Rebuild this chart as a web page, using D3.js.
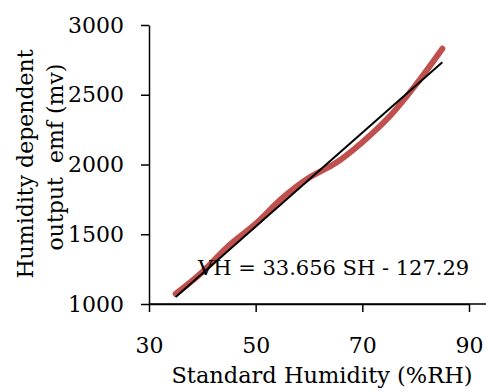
<!DOCTYPE html>
<html>
<head>
<meta charset="utf-8">
<script src="https://cdn.jsdelivr.net/npm/d3@7"></script>
<style>
  body { margin: 0; background: #fff; }
  svg text { font-family: "DejaVu Serif", serif; fill: #000; }
</style>
</head>
<body>
<svg id="chart" width="486" height="392"></svg>
<script>
const humidity = [35, 40, 45, 50, 55, 60, 65, 70, 75, 80, 85];
const emf = [1072, 1230, 1420, 1575, 1760, 1905, 2010, 2160, 2340, 2570, 2830];

// linear trendline, ends
const trendX = [35, 85];
const trendY = [1051, 2733];

const xTicks = [30, 50, 70, 90];
const yTicks = [1000, 1500, 2000, 2500, 3000];
const equation = "VH = 33.656 SH - 127.29";

const W = 486, H = 392;
const margin = { left: 149, top: 25, right: 17, bottom: 88 };

const svg = d3.select("#chart");

const x = d3.scaleLinear().domain([30, 90]).range([margin.left, W - margin.right]);
const y = d3.scaleLinear().domain([1000, 3000]).range([H - margin.bottom, margin.top]);

// axes
const xAxis = svg.append("g")
  .attr("transform", `translate(0,${y(1000)})`)
  .call(d3.axisBottom(x).tickValues(xTicks).tickFormat(d3.format("d"))
    .tickSize(8).tickSizeOuter(0).tickPadding(25));

const yAxis = svg.append("g")
  .attr("transform", `translate(${x(30)},0)`)
  .call(d3.axisLeft(y).tickValues(yTicks).tickFormat(d3.format("d"))
    .tickSize(8).tickSizeOuter(0).tickPadding(17));

[xAxis, yAxis].forEach((a) => {
  a.selectAll("path.domain").attr("stroke", "#000").attr("stroke-width", 1.5);
  a.selectAll(".tick line").attr("stroke", "#000").attr("stroke-width", 1.5);
  a.selectAll(".tick text")
    .style("font-family", "DejaVu Serif, serif")
    .style("font-size", "22px")
    .attr("fill", "#000");
});

// x axis runs on to the edge of the picture
svg.append("line")
  .attr("x1", x(30)).attr("x2", W)
  .attr("y1", y(1000)).attr("y2", y(1000))
  .attr("stroke", "#000").attr("stroke-width", 1.5);

// measured curve
const pts = humidity.map((h, i) => [h, emf[i]]);
const line = d3.line()
  .x((d) => x(d[0]))
  .y((d) => y(d[1]))
  .curve(d3.curveCatmullRom.alpha(0.5));

svg.append("path")
  .datum(pts)
  .attr("d", line)
  .attr("fill", "none")
  .attr("stroke", "#C0504D")
  .attr("stroke-width", 6)
  .attr("stroke-linecap", "round")
  .attr("stroke-linejoin", "round");

// trendline
svg.append("path")
  .datum(trendX.map((h, i) => [h, trendY[i]]))
  .attr("d", d3.line().x((d) => x(d[0])).y((d) => y(d[1])))
  .attr("fill", "none")
  .attr("stroke", "#000")
  .attr("stroke-width", 2);

// equation label
svg.append("text")
  .attr("x", 198)
  .attr("y", 275)
  .style("font-size", "21px")
  .text(equation);

// axis titles
svg.append("text")
  .attr("x", 322)
  .attr("y", 383)
  .attr("text-anchor", "middle")
  .style("font-size", "22.5px")
  .text("Standard Humidity (%RH)");

const yt = svg.append("text")
  .attr("transform", "rotate(-90)")
  .attr("text-anchor", "middle")
  .style("font-size", "22px");
yt.append("tspan").attr("x", -164).attr("y", 33).text("Humidity dependent");
yt.append("tspan").attr("x", -157).attr("y", 63).attr("xml:space", "preserve").text("output  emf (mv)");
</script>
</body>
</html>
